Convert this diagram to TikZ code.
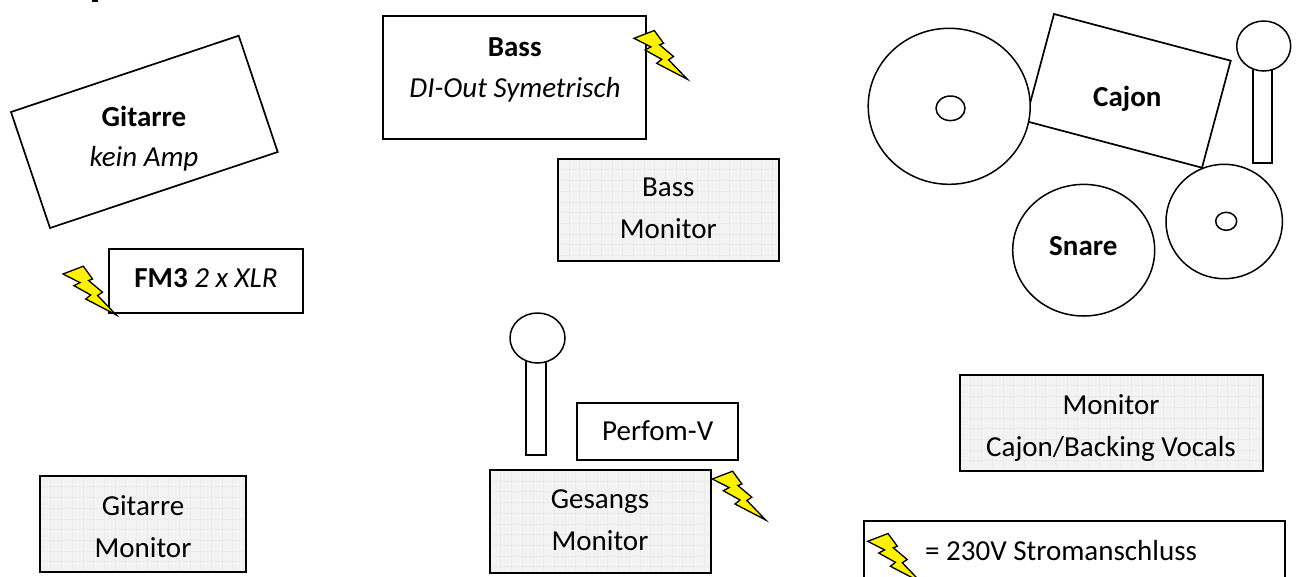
\documentclass[tikz,border=0pt]{standalone}
\usepackage{fontspec}
\setmainfont{Carlito}
\definecolor{monfill}{HTML}{F3F3F3}
\definecolor{mongrid}{HTML}{ECECEC}
\newcommand{\fs}{\fontsize{29}{29}\selectfont}
\tikzset{
  x=1pt,y=-1pt,
  plain/.style={draw=black,line width=1.7pt,fill=white,line join=miter},
  round/.style={draw=black,line width=1.5pt,fill=white},
  label/.style={font=\fs,inner sep=0pt,anchor=base},
  bold label/.style={font=\fs\bfseries,inner sep=0pt,anchor=base},
  ital label/.style={font=\fs\itshape,inner sep=0pt,anchor=base},
  bolt/.style={draw=black,line width=1.3pt,fill=yellow,line join=miter},
  gridline/.style={draw=mongrid,line width=0.6pt},
}
\newcommand{\boltat}[1]{\draw[bolt,shift={#1}] (0,0) -- (20.3,-7.8) -- (29.6,5) -- (25.6,6.5) -- (39.5,18.2) -- (34.6,21.5) -- (53.4,41) -- (22.7,25) -- (27.7,21) -- (11,11.7) -- (16.9,8.6) -- cycle;}
\newcommand{\monbox}[4]{%
  \fill[monfill] (#1,#2) rectangle (#3,#4);
  \begin{scope}
    \clip (#1,#2) rectangle (#3,#4);
    \foreach \gx in {0,10.7,...,320} {\draw[gridline] (#1+\gx,#2) -- (#1+\gx,#4);}
    \foreach \gy in {0,10.7,...,120} {\draw[gridline] (#1,#2+\gy) -- (#3,#2+\gy);}
  \end{scope}
  \draw[draw=black,line width=1.7pt] (#1,#2) rectangle (#3,#4);}
\begin{document}
\begin{tikzpicture}
\useasboundingbox (0,0) rectangle (1299,576);
\clip (0,0) rectangle (1299,576);
\fill[black] (92,0) rectangle (98,1.6);
% Gitarre
\draw[plain] (238.7,35.7) -- (277.7,152) -- (50,228) -- (11,112) -- cycle;
\node[bold label] (git) at (144,126) {Gitarre};
\node[ital label] (gitb) at (144,166.7) {kein Amp};
% FM3
\draw[plain] (109.3,249.3) rectangle (302.7,312.7);
\node[label] (fm) at (206,287.3) {\textbf{FM3} \textit{2 x XLR}};
\boltat{(63,274)}
% Bass
\draw[plain] (383.3,16) rectangle (646,139);
\node[bold label] (bass) at (514.7,56) {Bass};
\node[ital label] (di) at (515,97.3) {DI-Out Symetrisch};
\boltat{(634,38.3)}
% Bass Monitor
\monbox{558.3}{159}{778.7}{260.7}
\node[label] (bm1) at (668.3,196.7) {Bass};
\node[label] (bm2) at (668.3,238.7) {Monitor};
% Drums
\draw[plain] (1054,14) -- (1230.7,60.7) -- (1202,167.7) -- (1025.3,121) -- cycle;
\node[bold label] (cajon) at (1127.3,106) {Cajon};
\draw[round] (949.2,106.3) ellipse [x radius=81,y radius=78];
\draw[round] (950.5,108.3) ellipse [x radius=14.5,y radius=12.3];
\draw[round] (1083.7,250.2) ellipse [x radius=71,y radius=65.8];
\node[bold label] (snare) at (1083.3,255) {Snare};
\draw[plain] (1252.7,60) rectangle (1272,163);
\draw[round] (1263.7,46) ellipse [x radius=27,y radius=25];
\draw[round] (1224.2,221.5) ellipse [x radius=58.2,y radius=57.2];
\draw[round] (1226.2,221.3) ellipse [x radius=10.5,y radius=9];
% Vocals
\draw[plain] (526,350) rectangle (545.7,454.7);
\draw[round] (537.5,338) ellipse [x radius=27.5,y radius=25];
\draw[plain] (577,402.7) rectangle (738.3,459.7);
\node[label] (perf) at (657.7,440) {Perfom-V};
\monbox{490}{470.3}{710.7}{572.7}
\node[label] (gm1) at (600,508.3) {Gesangs};
\node[label] (gm2) at (600,550) {Monitor};
\boltat{(712.3,479)}
% Monitors
\monbox{960}{375}{1263}{471}
\node[label] (cm1) at (1111,414) {Monitor};
\node[label] (cm2) at (1111,456) {Cajon/Backing Vocals};
\monbox{40}{476}{246}{572}
\node[label] (gt1) at (143,515) {Gitarre};
\node[label] (gt2) at (143,557.3) {Monitor};
% Legend
\draw[plain] (864,521.3) rectangle (1284.7,600);
\node[label,anchor=base west] (leg) at (925,560) {= 230V Stromanschluss};
\boltat{(867.7,541.3)}
\end{tikzpicture}
\end{document}
